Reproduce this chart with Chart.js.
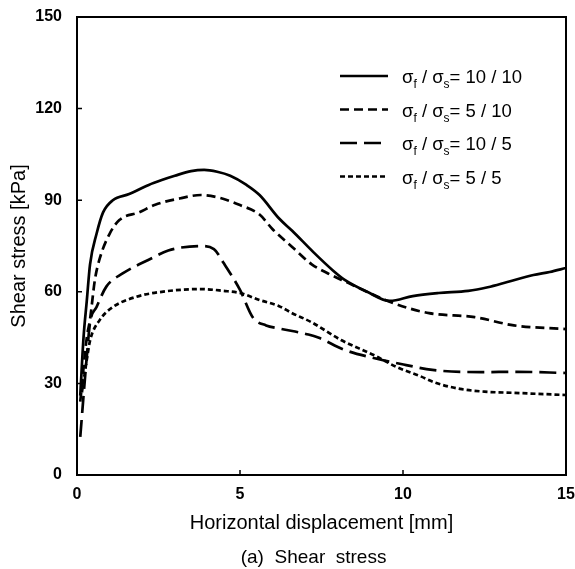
<!DOCTYPE html>
<html><head><meta charset="utf-8">
<script src="https://cdn.jsdelivr.net/npm/chart.js@4/dist/chart.umd.min.js"></script>
<style>html,body{margin:0;padding:0;background:#fff;}#wrap{width:575px;height:569px;position:relative;}</style>
</head><body><div id="wrap"><canvas id="c"></canvas></div>
<script>
// ---- data ----
const xTicks = [0, 5, 10, 15];
const yTicks = [0, 30, 60, 90, 120, 150];
const xTitle = 'Horizontal displacement [mm]';
const yTitle = 'Shear stress [kPa]';
const caption = '(a)  Shear  stress';
const legendValues = ['10 / 10', '5 / 10', '10 / 5', '5 / 5'];

const disp_10_10 = [0.1,0.2,0.3,0.4,0.6,0.8,1.1,1.6,2.2,2.6,3.0,3.5,3.9,4.3,4.7,5.2,5.6,6.2,6.6,7.25,7.85,8.2,8.9,9.6,10.3,11.1,12.0,12.6,13.2,14.0,14.5,15];
const stress_10_10 = [26,45,57,69,79,86,90,92,95,96.6,98,99.5,99.9,99.3,98,95,91.7,84,80,73,67,64,60,57,58.6,59.6,60.3,61.5,63.2,65.5,66.5,67.8];

const disp_5_10 = [0.1,0.3,0.4,0.55,0.7,1.0,1.3,1.9,2.4,3.2,3.8,4.4,5.0,5.6,6.0,6.6,7.2,7.7,8.3,9.0,9.7,10.8,12.2,13.4,15];
const stress_5_10 = [24,45,51,64,71,79,83.5,86,88.5,90.7,91.7,90.7,88.4,85.3,80.5,74.7,69,66,63,59.5,56.3,53,51.7,49,47.8];

const disp_10_5 = [0.1,0.3,0.4,0.6,0.9,1.4,2.2,2.8,3.2,3.8,4.2,4.5,5.0,5.4,5.8,6.2,7.1,7.4,8.2,9.1,10.1,10.9,12.4,13.5,15];
const stress_10_5 = [12.5,38.7,49.8,55,61.7,66,70.5,73.5,74.5,75,74,69.4,60.6,51.5,49,48,46,45,41,38.3,36,34.4,33.7,33.8,33.4];

const disp_5_5 = [0.15,0.3,0.4,0.7,1.1,1.8,2.6,3.8,4.5,5.0,5.6,6.2,6.6,7.2,8.1,9.1,9.8,10.5,11.0,11.75,12.5,13.4,15];
const stress_5_5 = [27,37.7,44,50.8,55,58.3,60,60.9,60.3,59.6,57.3,55.3,53,50,44.2,39.3,35.4,32.5,30.2,28.2,27.3,26.9,26.2];

// ---- helpers ----
const FONT = '"Liberation Sans", Arial, Helvetica, sans-serif';
const pts = (xs, ys) => xs.map((x, i) => ({x: x, y: ys[i]}));

function mkDs(label, xs, ys, dash) {
  return {
    label: label, data: pts(xs, ys), borderColor: '#000', borderWidth: 2.7,
    borderDash: dash, pointRadius: 0, fill: false, cubicInterpolationMode: 'monotone',
    borderCapStyle: 'butt'
  };
}

const framePlugin = {
  id: 'frame',
  afterDraw(chart) {
    const {ctx, chartArea: a, scales} = chart;
    ctx.save();
    ctx.strokeStyle = '#000';
    ctx.lineWidth = 2;
    ctx.setLineDash([]);
    ctx.strokeRect(a.left, a.top, a.right - a.left, a.bottom - a.top);
    ctx.lineWidth = 1.5;
    ctx.beginPath();
    xTicks.forEach(v => {
      const px = scales.x.getPixelForValue(v);
      ctx.moveTo(px, a.bottom); ctx.lineTo(px, a.bottom - 5);
    });
    yTicks.forEach(v => {
      const py = scales.y.getPixelForValue(v);
      ctx.moveTo(a.left, py); ctx.lineTo(a.left + 5, py);
    });
    ctx.stroke();

    // legend with subscripts
    const big = '18.5px ' + FONT, small = '12px ' + FONT;
    const x0 = 340, x1 = 388, tx = 402, y0 = 76, dy = 33.5;
    chart.data.datasets.forEach((ds, i) => {
      const y = y0 + i * dy;
      ctx.strokeStyle = '#000';
      ctx.lineWidth = ds.borderWidth;
      ctx.setLineDash(ds.borderDash || []);
      ctx.beginPath(); ctx.moveTo(x0, y); ctx.lineTo(x1, y); ctx.stroke();
      ctx.setLineDash([]);
      ctx.fillStyle = '#000';
      ctx.textBaseline = 'alphabetic';
      ctx.textAlign = 'left';
      const base = y + 7;
      const parts = [['\u03C3', big, 0], ['f', small, 5], [' / \u03C3', big, 0], ['s', small, 5], ['= ' + legendValues[i], big, 0]];
      let x = tx;
      parts.forEach(p => {
        ctx.font = p[1];
        ctx.fillText(p[0], x, base + p[2]);
        x += ctx.measureText(p[0]).width;
      });
    });
    ctx.restore();
  }
};

new Chart(document.getElementById('c'), {
  type: 'line',
  data: {
    datasets: [
      mkDs('\u03C3f / \u03C3s = ' + legendValues[0], disp_10_10, stress_10_10, []),
      mkDs('\u03C3f / \u03C3s = ' + legendValues[1], disp_5_10, stress_5_10, [9, 5]),
      mkDs('\u03C3f / \u03C3s = ' + legendValues[2], disp_10_5, stress_10_5, [17, 7]),
      mkDs('\u03C3f / \u03C3s = ' + legendValues[3], disp_5_5, stress_5_5, [5, 3])
    ]
  },
  options: {
    responsive: true, maintainAspectRatio: false, animation: false,
    layout: {padding: {top: 17, right: 9, left: 0, bottom: 0}},
    plugins: {
      legend: {display: false},
      tooltip: {enabled: false},
      subtitle: {
        display: true, position: 'bottom', fullSize: false, text: caption + '\u00A0\u00A0\u00A0',
        color: '#000', font: {family: FONT, size: 19, weight: 'normal'},
        padding: {top: 0, bottom: 0}
      }
    },
    scales: {
      x: {
        type: 'linear', min: 0, max: 15,
        afterBuildTicks: s => { s.ticks = xTicks.map(v => ({value: v})); },
        afterFit: s => { s.height = 71.2; s.paddingLeft = 0; s.paddingRight = 0; },
        grid: {display: false, drawTicks: false}, border: {display: false},
        ticks: {color: '#000', padding: 10.4, maxRotation: 0, font: {family: FONT, size: 16, weight: 'bold'}},
        title: {display: true, text: xTitle, color: '#000', font: {family: FONT, size: 20}, padding: {top: 0, bottom: 11.2}}
      },
      y: {
        type: 'linear', min: 0, max: 150,
        afterBuildTicks: s => { s.ticks = yTicks.map(v => ({value: v})); },
        afterFit: s => { s.width = 77; s.paddingTop = 0; s.paddingBottom = 0; },
        grid: {display: false, drawTicks: false}, border: {display: false},
        ticks: {color: '#000', padding: 15, font: {family: FONT, size: 16, weight: 'bold'}},
        title: {display: true, text: yTitle, color: '#000', font: {family: FONT, size: 20}, padding: {top: 7, bottom: 0}}
      }
    }
  },
  plugins: [framePlugin]
});
</script></body></html>
